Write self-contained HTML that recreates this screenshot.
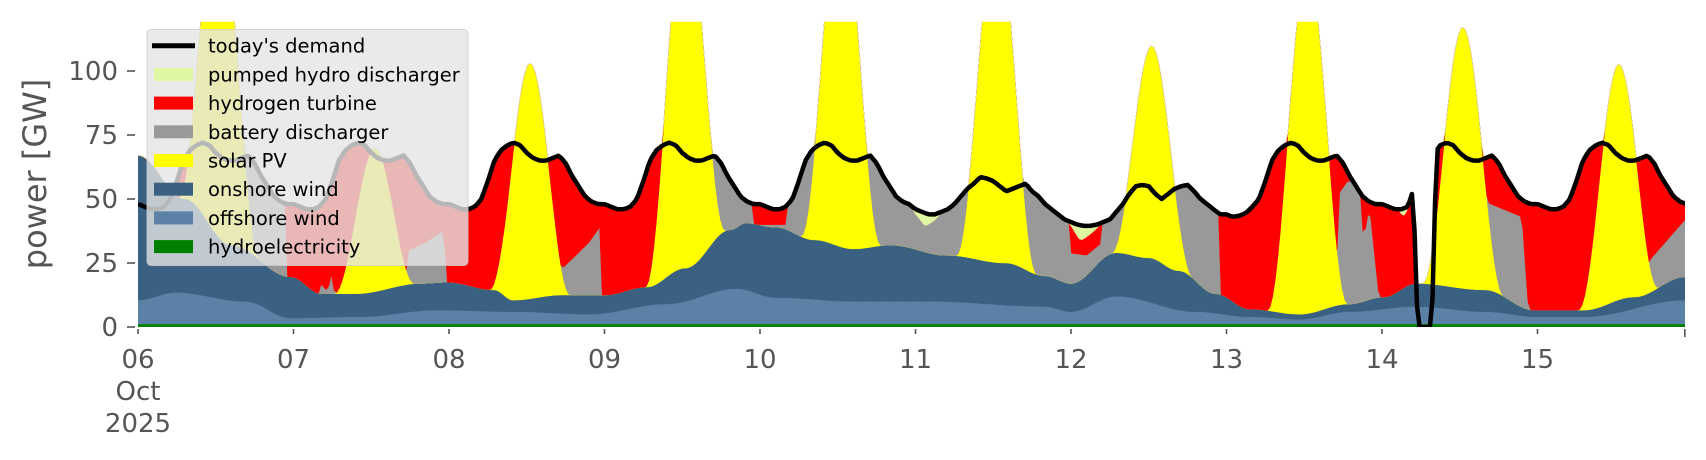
<!DOCTYPE html>
<html><head><meta charset="utf-8"><style>
html,body{margin:0;padding:0;background:#fff;}
svg{display:block;font-family:"DejaVu Sans","Liberation Sans",sans-serif;}
</style></head><body>
<svg id="s" width="1706" height="460" viewBox="0 0 1706 460" xmlns="http://www.w3.org/2000/svg">
<defs><clipPath id="cp"><rect x="138" y="21.7" width="1547" height="305.3"/></clipPath></defs>
<g id="layers" clip-path="url(#cp)"></g>
<g id="axes" fill="#555" stroke="none"></g>
<g id="legend"></g>
</svg>
<script>
const X=d=>138+155.5*d, Y=v=>327-2.56*v;
function interp(k,d){if(d<=k[0][0])return k[0][1];for(let i=1;i<k.length;i++){if(d<=k[i][0]){const a=k[i-1],b=k[i];let t=(d-a[0])/((b[0]-a[0])||1e-9);return a[1]+t*(b[1]-a[1]);}}return k[k.length-1][1];}
function sinterp(k,d){if(d<=k[0][0])return k[0][1];for(let i=1;i<k.length;i++){if(d<=k[i][0]){const a=k[i-1],b=k[i];let t=(d-a[0])/((b[0]-a[0])||1e-9);t=(1-Math.cos(Math.PI*t))/2;return a[1]+t*(b[1]-a[1]);}}return k[k.length-1][1];}
const onK=[[0,67],[0.3,50],[0.6,32],[0.98,19.6],[1.18,13],[1.4,13],[1.82,17],[1.99,17.5],[2.29,14.5],[2.41,10.5],[2.73,12.5],[3.0,12.5],[3.27,15.6],[3.52,23],[3.81,38],[3.91,40.6],[4.1,39],[4.35,34],[4.6,30.5],[4.84,32],[5.2,28],[5.58,25],[5.83,20],[6.0,17],[6.29,29],[6.5,27],[6.69,22],[6.93,13],[7.15,7],[7.47,5],[7.79,9],[8.01,11.7],[8.22,17],[8.66,14.5],[8.98,6.6],[9.3,6.6],[9.62,11.7],[9.95,19.6]];
const offK=[[0,10.5],[0.24,13.5],[0.69,10],[0.98,3.5],[1.43,4],[1.92,6.6],[2.41,6],[2.9,5],[3.4,9],[3.85,15],[4.1,11.5],[4.6,10],[5.1,10],[5.83,8],[6.0,6],[6.29,12],[6.8,6],[7.15,4],[7.47,3],[7.79,6],[8.22,8],[8.66,6],[9.0,4],[9.3,4],[9.95,10.5]];
const A=[130,56,92,140,135,130,83,135,102,92];
const wk=[48,47,46,46,47,50,57,65,69,71,72,71,68,66,65,65,66,67,64,59,55,51,49,48];
const sat=[46,45,44,44,45,46,48,51,54,56,58.6,58,57,55,53,54,55,56,53,51,48,46,44,42];
const sun=[41,40,39.5,39.5,40,41,42,45,48,52,55,55.5,55,52,50,52,54,55,55.5,53,50,48,46,44];
let dK=[];
for(let k=0;k<10;k++){let t=k==5?sat:k==6?sun:wk;for(let h=0;h<24;h++){let v=t[h];if(k==7&&h<4)v=[44,43,43.5,44.5][h];dK.push([k+h/24,v]);}}
dK.push([9.96,54]);
dK=dK.filter(p=>!(p[0]>8.17&&p[0]<8.36));
dK.push([8.2,53.5],[8.23,0],[8.32,0],[8.35,69]);dK.sort((a,b)=>a[0]-b[0]);
const bK=[[0,0],[0.6,0],[0.62,999],[0.93,999],[0.95,0],[1.15,0],[1.17,17],[1.22,14],[1.25,22],[1.28,0],[1.72,0],[1.74,30],[1.85,33],[1.97,38],[1.99,0],[2.71,0],[2.73,23],[2.8,27],[2.9,33],[2.97,39],[2.98,0],[3.58,0],[3.6,999],[3.94,999],[3.96,40],[4.17,40],[4.19,999],[5.97,999],[5.99,29],[6.1,28],[6.2,33],[6.28,999],[6.93,999],[6.95,0],[7.7,0],[7.72,52],[7.78,57],[7.86,57],[7.88,34],[7.92,47],[7.98,12],[8.0,0],[8.6,0],[8.62,50],[8.9,43],[8.95,0],[9.7,0],[9.72,26],[9.95,42],[10,42]];
const pK=[[0,0],[4.96,0],[5.06,5],[5.18,0],[5.98,0],[6.06,6],[6.2,0],[8.1,0],[8.14,3],[8.18,0],[10,0]];
const N=600, ds=[];for(let i=0;i<=N;i++)ds.push(i*9.95/N);
const rows=ds.map(d=>{const k=Math.min(9,Math.floor(d)),h=(d-k)*24;const f=(h>6.3&&h<18.7)?Math.pow(Math.sin(Math.PI*(h-6.3)/12.4),2):0;
const O=sinterp(offK,d),W=sinterp(onK,d),S=W+A[k]*f,D=interp(dK,d),T=Math.max(S,D,W);const Ht=Math.max(S,T-interp(pK,d));const B=Math.min(Math.max(interp(bK,d),S),Ht);
return {d,hy:1.2,O,W,S,B,Ht,T,D};});
function band(lo,hi,col){let p='';rows.forEach((r,i)=>p+=(i?'L':'M')+X(r.d).toFixed(1)+' '+Y(lo(r)).toFixed(1));for(let i=rows.length-1;i>=0;i--){const r=rows[i];p+='L'+X(r.d).toFixed(1)+' '+Y(hi(r)).toFixed(1);}return `<path d="${p}Z" fill="${col}" stroke="${col}" stroke-width="0.5"/>`;}
let L='';
L+=band(r=>0,r=>r.hy,'#008000');
L+=band(r=>r.hy,r=>r.O,'#5b82a6');
L+=band(r=>r.O,r=>r.W,'#3b6182');
L+=band(r=>r.W,r=>r.S,'#ffff00');
L+=band(r=>r.S,r=>r.B,'#999999');
L+=band(r=>r.B,r=>r.Ht,'#ff0000');
L+=band(r=>r.Ht,r=>r.T,'#ddf7a3');
let dp='';rows.forEach((r,i)=>dp+=(i?'L':'M')+X(r.d).toFixed(1)+' '+Y(r.D).toFixed(1));
L+=`<path d="${dp}" fill="none" stroke="#000" stroke-width="4.5" stroke-linejoin="round"/>`;
document.getElementById('layers').innerHTML=L;
let ax='';
[0,25,50,75,100].forEach(v=>{const y=Y(v);ax+=`<rect x="127" y="${y-0.8}" width="8" height="1.6"/><text x="118" y="${y+9}" font-size="26" text-anchor="end">${v}</text>`;});
for(let k=0;k<10;k++){const x=X(k);ax+=`<rect x="${x-0.8}" y="329" width="1.6" height="5"/><text x="${x}" y="368" font-size="26" text-anchor="middle">${String(6+k).padStart(2,'0')}</text>`;}
ax+=`<rect x="1684" y="329" width="1.6" height="8"/>`;
ax+=`<text x="${X(0)}" y="400" font-size="26" text-anchor="middle">Oct</text><text x="${X(0)}" y="432" font-size="26" text-anchor="middle">2025</text>`;
ax+=`<text transform="translate(46,174) rotate(-90)" font-size="32" text-anchor="middle">power [GW]</text>`;
document.getElementById('axes').innerHTML=ax;
const items=[["today's demand",'line'],["pumped hydro discharger",'#ddf7a3'],["hydrogen turbine",'#ff0000'],["battery discharger",'#999999'],["solar PV",'#ffff00'],["onshore wind",'#3b6182'],["offshore wind",'#5b82a6'],["hydroelectricity",'#008000']];
let lg=`<rect x="147" y="29.5" width="321" height="236" rx="4" fill="#e5e5e5" fill-opacity="0.8" stroke="#cccccc" stroke-opacity="0.8"/>`;
items.forEach((it,i)=>{const y=45.7+28.7*i;
if(it[1]=='line')lg+=`<line x1="152" y1="${y}" x2="195" y2="${y}" stroke="#000" stroke-width="5"/>`;else lg+=`<rect x="154" y="${y-6.5}" width="39" height="13" fill="${it[1]}"/>`;
lg+=`<text x="208" y="${y+7}" font-size="19.5" fill="#000">${it[0]}</text>`;});
document.getElementById('legend').innerHTML=lg;
</script>
</body></html>
